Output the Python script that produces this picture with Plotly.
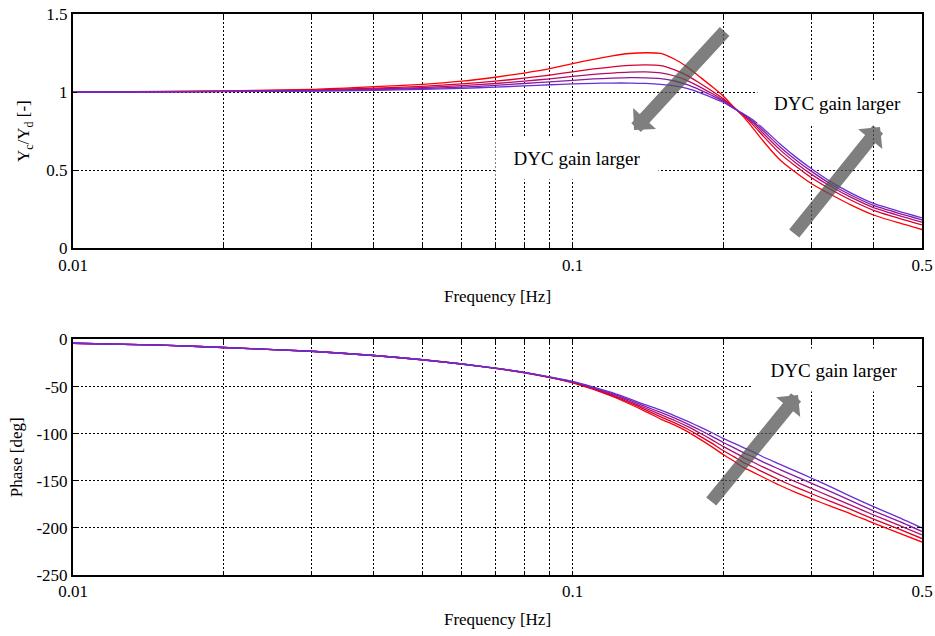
import plotly.graph_objects as go
from plotly.subplots import make_subplots

# Frequency response of lateral displacement ratio Yc/Yd for five DYC gain settings
freq_hz = [0.01, 0.015, 0.02, 0.03, 0.04, 0.05, 0.06, 0.07, 0.08, 0.09,
           0.10, 0.11, 0.12, 0.13, 0.14, 0.15, 0.16, 0.17, 0.18, 0.19,
           0.20, 0.21, 0.22, 0.23, 0.24, 0.26, 0.28, 0.30, 0.33, 0.36,
           0.40, 0.45, 0.50]

# Gain |Yc/Yd| [-], smallest DYC gain first
gain_dyc1 = [1.000, 1.004, 1.008, 1.017, 1.035, 1.050, 1.070, 1.095, 1.122, 1.150,
             1.182, 1.210, 1.232, 1.247, 1.252, 1.248, 1.210, 1.158, 1.095, 1.035,
             0.975, 0.905, 0.840, 0.765, 0.690, 0.565, 0.483, 0.415, 0.341, 0.278,
             0.213, 0.162, 0.120]
gain_dyc2 = [1.000, 1.003, 1.006, 1.013, 1.025, 1.037, 1.052, 1.070, 1.089, 1.109,
             1.130, 1.148, 1.162, 1.171, 1.174, 1.169, 1.142, 1.104, 1.055, 1.007,
             0.959, 0.901, 0.848, 0.787, 0.722, 0.606, 0.523, 0.453, 0.373, 0.309,
             0.243, 0.192, 0.150]
gain_dyc3 = [1.000, 1.002, 1.005, 1.010, 1.020, 1.029, 1.041, 1.055, 1.070, 1.085,
             1.100, 1.113, 1.122, 1.128, 1.129, 1.123, 1.103, 1.072, 1.032, 0.991,
             0.950, 0.899, 0.853, 0.800, 0.740, 0.630, 0.545, 0.475, 0.392, 0.327,
             0.260, 0.209, 0.167]
gain_dyc4 = [1.000, 1.002, 1.004, 1.008, 1.015, 1.023, 1.032, 1.043, 1.055, 1.066,
             1.075, 1.084, 1.089, 1.092, 1.091, 1.086, 1.071, 1.046, 1.013, 0.978,
             0.942, 0.897, 0.856, 0.810, 0.756, 0.649, 0.564, 0.494, 0.407, 0.341,
             0.274, 0.223, 0.182]
gain_dyc5 = [1.000, 1.001, 1.003, 1.006, 1.011, 1.017, 1.024, 1.032, 1.040, 1.047,
             1.052, 1.056, 1.058, 1.058, 1.056, 1.050, 1.040, 1.022, 0.995, 0.965,
             0.935, 0.895, 0.860, 0.820, 0.770, 0.668, 0.582, 0.511, 0.422, 0.355,
             0.287, 0.236, 0.195]

# Phase [deg]
phase_dyc1 = [-4.0, -6.0, -8.5, -12.5, -17.0, -21.5, -26.0, -30.7, -35.3, -40.5,
              -46.0, -53.0, -60.5, -68.5, -76.5, -84.5, -91.0, -98.0, -106.0, -114.0,
              -122.0, -129.0, -136.0, -141.0, -146.0, -155.0, -162.5, -169.0, -177.5, -185.0,
              -195.0, -205.5, -215.0]
phase_dyc2 = [-4.0, -6.0, -8.5, -12.5, -17.0, -21.5, -26.0, -30.6, -35.2, -40.3,
              -45.6, -52.4, -59.5, -67.1, -74.8, -82.1, -88.5, -95.3, -102.8, -110.3,
              -117.8, -124.3, -130.8, -135.6, -140.6, -149.4, -156.9, -163.5, -172.4, -180.4,
              -190.6, -201.4, -211.3]
phase_dyc3 = [-4.0, -6.0, -8.5, -12.5, -17.0, -21.5, -26.0, -30.5, -35.1, -40.1,
              -45.3, -51.8, -58.5, -65.8, -73.0, -79.8, -86.0, -92.5, -99.5, -106.5,
              -113.5, -119.5, -125.5, -130.3, -135.3, -143.8, -151.3, -158.0, -167.3, -175.8,
              -186.3, -197.3, -207.5]
phase_dyc4 = [-4.0, -6.0, -8.5, -12.5, -17.0, -21.5, -26.0, -30.5, -35.0, -40.0,
              -44.9, -51.1, -57.5, -64.4, -71.3, -77.4, -83.5, -89.8, -96.3, -102.8,
              -109.3, -114.8, -120.3, -124.9, -129.9, -138.1, -145.6, -152.5, -162.1, -171.1,
              -181.9, -193.1, -203.8]
phase_dyc5 = [-4.0, -6.0, -8.5, -12.5, -17.0, -21.5, -26.0, -30.4, -34.9, -39.8,
              -44.5, -50.5, -56.5, -63.0, -69.5, -75.0, -81.0, -87.0, -93.0, -99.0,
              -105.0, -110.0, -115.0, -119.5, -124.5, -132.5, -140.0, -147.0, -157.0, -166.5,
              -177.5, -189.0, -200.0]

gain_series = [gain_dyc1, gain_dyc2, gain_dyc3, gain_dyc4, gain_dyc5]
phase_series = [phase_dyc1, phase_dyc2, phase_dyc3, phase_dyc4, phase_dyc5]
line_colors = ["#ff0000", "#d60035", "#b00f6a", "#8a1aa0", "#6630d8"]

x_grid_vals = [0.01, 0.02, 0.03, 0.04, 0.05, 0.06, 0.07, 0.08, 0.09,
               0.1, 0.2, 0.3, 0.4, 0.5]
x_grid_text = ["0.01", "", "", "", "", "", "", "", "",
               "0.1", "", "", "", "0.5"]
gain_ticks = [0, 0.5, 1, 1.5]
gain_tick_text = ["0", "0.5", "1", "1.5"]
phase_ticks = [-250, -200, -150, -100, -50, 0]
phase_tick_text = ["-250", "-200", "-150", "-100", "-50", "0"]

FONT = "Liberation Serif"
W, H = 935, 636
M_L, M_R, M_T, M_B = 73, 13, 14, 61

fig = make_subplots(rows=2, cols=1)

for ys, col in zip(gain_series, line_colors):
    fig.add_trace(go.Scatter(x=freq_hz, y=ys, mode="lines",
                             line=dict(color=col, width=1.3, shape="spline", smoothing=0.6),
                             showlegend=False, hoverinfo="skip"), row=1, col=1)
for ys, col in zip(phase_series, line_colors):
    fig.add_trace(go.Scatter(x=freq_hz, y=ys, mode="lines",
                             line=dict(color=col, width=1.3, shape="spline", smoothing=0.6),
                             showlegend=False, hoverinfo="skip"), row=2, col=1)

axis_common = dict(
    showline=True, linecolor="black", linewidth=2, mirror="ticks",
    ticks="inside", ticklen=4, tickwidth=1, tickcolor="black",
    showgrid=True, gridcolor="black", gridwidth=1, griddash="2px,2px",
    zeroline=False, automargin=False,
    tickfont=dict(family=FONT, size=17, color="black"),
)

for ax, stand in (("xaxis", 16), ("xaxis2", 13)):
    fig.layout[ax].update(
        type="log", range=[-2, -0.30103],
        tickmode="array", tickvals=x_grid_vals, ticktext=x_grid_text,
        title=dict(text="Frequency [Hz]", font=dict(family=FONT, size=17, color="black"),
                   standoff=stand),
        **axis_common)

fig.layout.yaxis.update(
    range=[0, 1.5], tickmode="array", tickvals=gain_ticks, ticktext=gain_tick_text,
    domain=[0.5824, 1.0],
    title=dict(text="Y<sub>c</sub>/Y<sub>d</sub> [-]",
               font=dict(family=FONT, size=17, color="black"), standoff=12),
    **axis_common)
fig.layout.yaxis2.update(
    range=[-250, 0], tickmode="array", tickvals=phase_ticks, ticktext=phase_tick_text,
    domain=[0.0, 0.4198],
    title=dict(text="Phase [deg]", font=dict(family=FONT, size=17, color="black"),
               standoff=9),
    **axis_common)

plot_w = W - M_L - M_R
plot_h = H - M_T - M_B


def to_paper(px, py):
    return (px - M_L) / plot_w, (H - M_B - py) / plot_h


annotations = []

# Label boxes (white background hides the grid underneath)
for cx, cy, bw in ((577, 158, 160), (837, 103, 157), (834, 370, 162)):
    xp, yp = to_paper(cx, cy)
    annotations.append(dict(
        xref="paper", yref="paper", x=xp, y=yp, xanchor="center", yanchor="middle",
        text="DYC gain larger", showarrow=False, bgcolor="white",
        width=bw, height=40, font=dict(family=FONT, size=19, color="black")))

# Thick gray arrows: tip position and tail offset in pixels
for tip, tail in (((634, 130), (726, 30)),
                  ((880, 127), (793, 235)),
                  ((798, 395), (710, 503))):
    xp, yp = to_paper(*tip)
    annotations.append(dict(
        xref="paper", yref="paper", x=xp, y=yp, text="",
        showarrow=True, arrowhead=1, arrowsize=0.4, arrowwidth=13,
        arrowcolor="rgb(85,85,85)", opacity=0.75, standoff=0,
        ax=tail[0] - tip[0], ay=tail[1] - tip[1]))

fig.update_layout(
    width=W, height=H,
    margin=dict(l=M_L, r=M_R, t=M_T, b=M_B),
    paper_bgcolor="white", plot_bgcolor="white",
    font=dict(family=FONT, color="black"),
    annotations=annotations,
)

fig.write_html("out.html")
